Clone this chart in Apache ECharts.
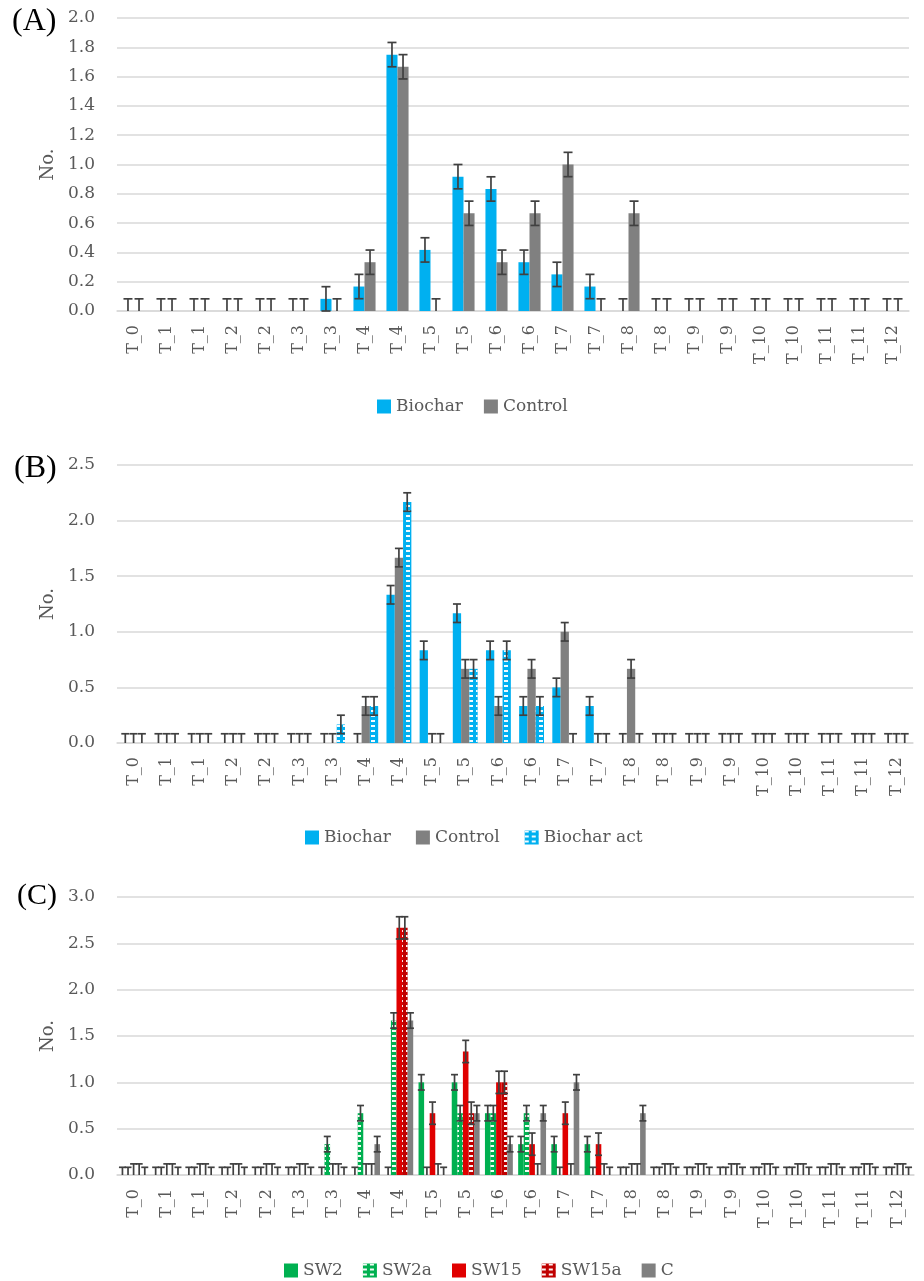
<!DOCTYPE html>
<html><head><meta charset="utf-8">
<script src="https://cdn.jsdelivr.net/npm/echarts@6/dist/echarts.min.js"></script>
<style>html,body{margin:0;padding:0;background:#fff}#c{width:924px;height:1281px}</style>
</head><body><div id="c"></div>
<script>
// ---------- data ----------
const categories = ['T_0','T_1','T_1','T_2','T_2','T_3','T_3','T_4','T_4','T_5','T_5','T_6','T_6','T_7','T_7','T_8','T_8','T_9','T_9','T_10','T_10','T_11','T_11','T_12'];

// Panel A
const biocharA = [0,0,0,0,0,0,0.083,0.167,1.75,0.417,0.917,0.833,0.333,0.25,0.167,0,0,0,0,0,0,0,0,0];
const controlA = [0,0,0,0,0,0,0,0.333,1.667,0,0.667,0.333,0.667,1.0,0,0.667,0,0,0,0,0,0,0,0];
const errBiocharA = 0.083, errControlA = 0.083;

// Panel B
const biocharB = [0,0,0,0,0,0,0,0,1.333,0.833,1.167,0.833,0.333,0.5,0.333,0,0,0,0,0,0,0,0,0];
const controlB = [0,0,0,0,0,0,0,0.333,1.667,0,0.667,0.333,0.667,1.0,0,0.667,0,0,0,0,0,0,0,0];
const biocharActB = [0,0,0,0,0,0,0.167,0.333,2.167,0,0.667,0.833,0.333,0,0,0,0,0,0,0,0,0,0,0];
const errBiocharB = 0.083, errControlB = 0.083, errBiocharActB = 0.083;

// Panel C
const sw2C   = [0,0,0,0,0,0,0,0,0,1.0,1.0,0.667,0.333,0.333,0.333,0,0,0,0,0,0,0,0,0];
const sw2aC  = [0,0,0,0,0,0,0.333,0.667,1.667,0,0.667,0.667,0.667,0,0,0,0,0,0,0,0,0,0,0];
const sw15C  = [0,0,0,0,0,0,0,0,2.667,0.667,1.333,1.0,0.333,0.667,0.333,0,0,0,0,0,0,0,0,0];
const sw15aC = [0,0,0,0,0,0,0,0,2.667,0,0.667,1.0,0,0,0,0,0,0,0,0,0,0,0,0];
const cC     = [0,0,0,0,0,0,0,0.333,1.667,0,0.667,0.333,0.667,1.0,0,0.667,0,0,0,0,0,0,0,0];
const errSw2C = 0.083, errSw2aC = 0.083, errSw15C = 0.12, errSw15aC = 0.12, errCC = 0.083;

const panelLabels = ['(A)','(B)','(C)'];
const yAxisName = 'No.';

// ---------- styling ----------
const FONT = 'DejaVu Serif';
const GREY_TXT = '#595959';
const BLUE = '#00B0F0', GREY = '#808080', GREEN = '#00B050', RED = '#E00000', DARKRED = '#C00000';
const patt = {symbol:'rect', symbolSize:1, color:'rgba(255,255,255,0.95)', dashArrayX:[[4,3]], dashArrayY:[2,3], rotation:0};

function bar(name, data, color, g, frac, decal){
  return {type:'bar', name, data, xAxisIndex:g, yAxisIndex:g, barWidth:(frac*100)+'%', barGap:'0%',
    itemStyle:{color, decal: decal || null}, emphasis:{disabled:true}, animation:false, z:2};
}
function err(g, data, e, i, n, frac, cap){
  return {type:'custom', name:'err'+g+'_'+i, xAxisIndex:g, yAxisIndex:g, z:5, animation:false,
    data: data.map((v,k)=>[k,v,e]), encode:{x:0,y:1},
    renderItem(params, api){
      const x = api.value(0), v = api.value(1), ev = api.value(2);
      const bw = api.size([1,0])[0];
      const c = api.coord([x, v]);
      const cx = c[0] + (i - (n-1)/2) * bw * frac;
      const yt = api.coord([x, v+ev])[1];
      const lo = v - ev;
      const yb = api.coord([x, Math.max(0, lo)])[1];
      const st = {stroke:'#404040', lineWidth:1.7};
      const ch = [
        {type:'line', shape:{x1:cx,y1:yt,x2:cx,y2:yb}, style:st},
        {type:'line', shape:{x1:cx-cap,y1:yt,x2:cx+cap,y2:yt}, style:st}
      ];
      if (lo >= -1e-6) ch.push({type:'line', shape:{x1:cx-cap,y1:yb,x2:cx+cap,y2:yb}, style:st});
      return {type:'group', children:ch};
    }};
}

const grids = [
  {left:117, right:15, top:18, height:293},
  {left:117, right:11, top:465, height:278},
  {left:117, right:10, top:897, height:278}
];
const yr = [{max:2, interval:0.2},{max:2.5, interval:0.5},{max:3, interval:0.5}];

const xAxes = grids.map((g,k)=>({type:'category', gridIndex:k, data:categories,
  axisLine:{lineStyle:{color:'#d9d9d9', width:1.5}}, axisTick:{show:false},
  axisLabel:{interval:0, rotate:90, margin:14, fontFamily:FONT, fontSize:16, color:GREY_TXT}}));
const yAxes = grids.map((g,k)=>({type:'value', gridIndex:k, min:0, max:yr[k].max, interval:yr[k].interval,
  name:yAxisName, nameLocation:'middle', nameGap:56, nameTextStyle:{fontFamily:FONT, fontSize:18, color:GREY_TXT},
  axisLine:{show:false}, axisTick:{show:false},
  splitLine:{lineStyle:{color:'#d9d9d9', width:1.5}},
  axisLabel:{margin:22, fontFamily:FONT, fontSize:17, color:GREY_TXT, formatter:v=>v.toFixed(1)}}));

const fA = 0.335, fB = 0.25, fC = 0.168;
const series = [
  bar('Biochar', biocharA, BLUE, 0, fA), bar('Control', controlA, GREY, 0, fA),
  err(0, biocharA, errBiocharA, 0, 2, fA, 4.5), err(0, controlA, errControlA, 1, 2, fA, 4.5),
  bar('Biochar', biocharB, BLUE, 1, fB), bar('Control', controlB, GREY, 1, fB),
  bar('Biochar act', biocharActB, BLUE, 1, fB, patt),
  err(1, biocharB, errBiocharB, 0, 3, fB, 4), err(1, controlB, errControlB, 1, 3, fB, 4), err(1, biocharActB, errBiocharActB, 2, 3, fB, 4),
  bar('SW2', sw2C, GREEN, 2, fC), bar('SW2a', sw2aC, GREEN, 2, fC, patt),
  bar('SW15', sw15C, RED, 2, fC), bar('SW15a', sw15aC, DARKRED, 2, fC, patt),
  bar('C', cC, GREY, 2, fC),
  err(2, sw2C, errSw2C, 0, 5, fC, 3.5), err(2, sw2aC, errSw2aC, 1, 5, fC, 3.5), err(2, sw15C, errSw15C, 2, 5, fC, 3.5),
  err(2, sw15aC, errSw15aC, 3, 5, fC, 3.5), err(2, cC, errCC, 4, 5, fC, 3.5)
];

const lg = (data, left, top, gap)=>({data, left, top, itemGap:gap, itemWidth:14, itemHeight:14, icon:'rect',
  textStyle:{fontFamily:FONT, fontSize:17, color:GREY_TXT}, selectedMode:false});

const chart = echarts.init(document.getElementById('c'), null, {renderer:'canvas'});
chart.setOption({
  backgroundColor:'#fff', animation:false,
  grid: grids, xAxis: xAxes, yAxis: yAxes, series,
  legend: [
    lg(['Biochar','Control'], 372, 393, 21),
    lg(['Biochar','Control','Biochar act'], 300, 824, 25),
    lg(['SW2','SW2a','SW15','SW15a','C'], 279, 1257, 20)
  ],
  graphic: [
    {type:'text', left:12, top:6, style:{text:panelLabels[0], font:'32px "Liberation Serif"', fill:'#000'}},
    {type:'text', left:14, top:453, style:{text:panelLabels[1], font:'32px "Liberation Serif"', fill:'#000'}},
    {type:'text', left:17, top:881, style:{text:panelLabels[2], font:'30px "Liberation Serif"', fill:'#000'}}
  ]
});
</script></body></html>
